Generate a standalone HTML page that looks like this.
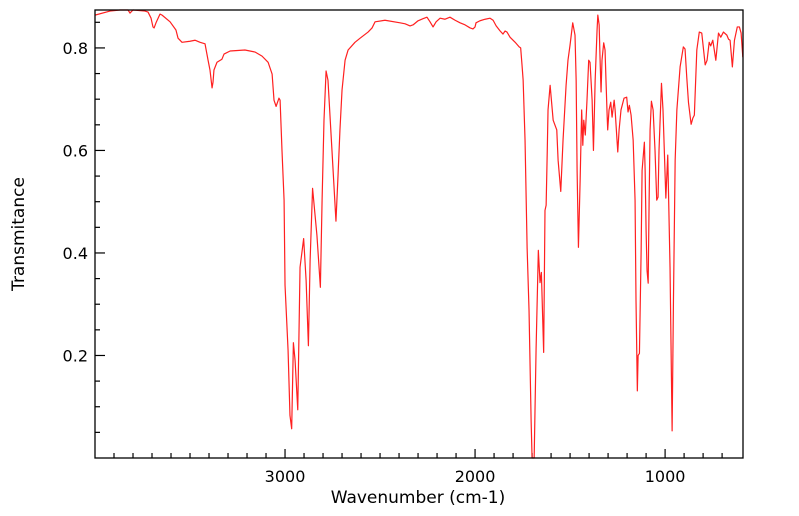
<!DOCTYPE html>
<html><head><meta charset="utf-8"><style>
html,body{margin:0;padding:0;background:#fff;}
svg{display:block;font-family:"DejaVu Sans","Liberation Sans",sans-serif;}
</style></head><body>
<svg id="chart" width="799" height="516">
<rect x="0" y="0" width="799" height="516" fill="#fff"/>
<g id="axes"></g>
<path id="series" fill="none" stroke="#ff2020" stroke-width="1.2" stroke-linejoin="round"/>
<rect x="95" y="10" width="648" height="448" fill="none" stroke="#000" stroke-width="1.3"/>
<text x="418" y="503" text-anchor="middle" font-size="17">Wavenumber (cm-1)</text>
<text x="24" y="234" text-anchor="middle" font-size="17" transform="rotate(-90 24 234)">Transmitance</text>
</svg>
<script>
const wavenumbers=[4000,3921,3868,3826,3816,3800,3737,3721,3705,3695,3689,3679,3658,3647,3605,3574,3563,3542,3500,3474,3447,3421,3405,3395,3384,3379,3374,3358,3332,3321,3289,3211,3158,3121,3089,3068,3058,3047,3032,3026,3016,3005,3000,2984,2974,2965,2956,2947,2933,2921,2902,2889,2877,2868,2855,2832,2814,2805,2795,2784,2774,2753,2732,2721,2711,2700,2684,2668,2632,2605,2563,2542,2526,2474,2395,2368,2342,2326,2300,2274,2253,2237,2221,2205,2184,2158,2132,2105,2079,2053,2026,2011,2000,1995,1974,1947,1921,1905,1889,1868,1853,1842,1832,1816,1789,1768,1760,1753,1747,1737,1726,1716,1705,1700,1689,1679,1667,1658,1651,1639,1632,1626,1620,1616,1605,1589,1570,1563,1549,1537,1521,1511,1500,1486,1474,1468,1463,1456,1447,1439,1433,1428,1420,1411,1402,1395,1384,1377,1368,1358,1354,1347,1342,1337,1332,1323,1316,1311,1305,1302,1295,1286,1279,1268,1263,1253,1249,1242,1232,1216,1202,1195,1188,1179,1168,1158,1153,1146,1142,1135,1126,1121,1109,1105,1100,1095,1089,1084,1079,1072,1063,1053,1044,1037,1032,1019,1011,996,986,974,963,956,947,938,921,904,895,886,877,863,854,846,833,820,807,789,779,768,760,749,733,719,707,693,675,666,658,646,635,620,609,600,591];
const transmittance=[0.864,0.872,0.874,0.874,0.868,0.874,0.872,0.870,0.858,0.841,0.839,0.849,0.866,0.864,0.851,0.835,0.819,0.811,0.813,0.815,0.811,0.808,0.776,0.757,0.722,0.733,0.757,0.772,0.778,0.788,0.794,0.796,0.792,0.784,0.772,0.749,0.698,0.686,0.702,0.698,0.600,0.503,0.337,0.210,0.083,0.057,0.225,0.190,0.094,0.372,0.428,0.346,0.219,0.385,0.526,0.434,0.333,0.503,0.659,0.755,0.737,0.600,0.462,0.552,0.640,0.718,0.776,0.796,0.811,0.819,0.831,0.839,0.851,0.854,0.849,0.847,0.843,0.845,0.853,0.857,0.860,0.851,0.841,0.851,0.858,0.856,0.860,0.854,0.849,0.845,0.839,0.837,0.841,0.849,0.853,0.856,0.858,0.854,0.843,0.833,0.827,0.833,0.831,0.821,0.811,0.802,0.800,0.767,0.737,0.620,0.409,0.288,0.073,0.0,0.0,0.210,0.405,0.342,0.362,0.206,0.483,0.493,0.600,0.679,0.727,0.659,0.640,0.581,0.520,0.620,0.727,0.776,0.806,0.849,0.825,0.737,0.561,0.411,0.542,0.679,0.610,0.659,0.630,0.698,0.776,0.772,0.698,0.600,0.737,0.835,0.864,0.845,0.776,0.714,0.776,0.810,0.796,0.737,0.669,0.640,0.679,0.694,0.665,0.698,0.679,0.620,0.597,0.640,0.679,0.702,0.704,0.675,0.688,0.669,0.620,0.503,0.307,0.131,0.200,0.204,0.405,0.561,0.616,0.561,0.444,0.366,0.341,0.503,0.640,0.696,0.679,0.600,0.503,0.509,0.600,0.731,0.679,0.507,0.591,0.372,0.053,0.307,0.581,0.679,0.763,0.802,0.798,0.743,0.694,0.651,0.663,0.669,0.796,0.831,0.829,0.767,0.776,0.811,0.804,0.815,0.776,0.829,0.821,0.831,0.825,0.817,0.815,0.763,0.815,0.841,0.841,0.829,0.782];
const xMajorTicks=[3000,2000,1000];
const yMajorTicks=[0.2,0.4,0.6,0.8];
const yTickLabels=["0.2","0.4","0.6","0.8"];
const xTickLabels=["3000","2000","1000"];

const L=95,R=743,T=10,B=458;
const xMax=4000,xMin=590,yMin=0,yMax=0.874;
function xs(v){return L+(xMax-v)/(xMax-xMin)*(R-L);}
function ys(v){return B-(v-yMin)/(yMax-yMin)*(B-T);}
const NS="http://www.w3.org/2000/svg";
const axes=document.getElementById('axes');
function line(x1,y1,x2,y2,name){
  const l=document.createElementNS(NS,'line');
  l.setAttribute('x1',x1);l.setAttribute('y1',y1);l.setAttribute('x2',x2);l.setAttribute('y2',y2);
  l.setAttribute('stroke','#000');l.setAttribute('stroke-width','1.2');
  
  
  axes.appendChild(l);
}
function text(x,y,s,anchor,name){
  const t=document.createElementNS(NS,'text');
  t.setAttribute('x',x);t.setAttribute('y',y);t.setAttribute('text-anchor',anchor);t.setAttribute('font-size','16');
  t.textContent=s;
  
  
  axes.appendChild(t);
}
for(let v=700;v<=3900;v+=100){
  const x=xs(v);
  const major=v%1000===0;
  line(x,B,x,B-(major?9:5),major?'x-major-tick':'x-minor-tick');
}
xMajorTicks.forEach((v,i)=>text(xs(v),482,xTickLabels[i],'middle','x-tick-label'));
for(let k=1;k<=17;k++){
  const v=k*0.05;
  const y=ys(v);
  const major=k%4===0;
  line(L,y,L+(major?10:5),y,major?'y-major-tick':'y-minor-tick');
}
yMajorTicks.forEach((v,i)=>text(88,ys(v)+6,yTickLabels[i],'end','y-tick-label'));
let d='';
for(let i=0;i<wavenumbers.length;i++){
  d+=(i?'L':'M')+xs(wavenumbers[i]).toFixed(2)+' '+ys(transmittance[i]).toFixed(2);
}
document.getElementById('series').setAttribute('d',d);
</script>
</body></html>
